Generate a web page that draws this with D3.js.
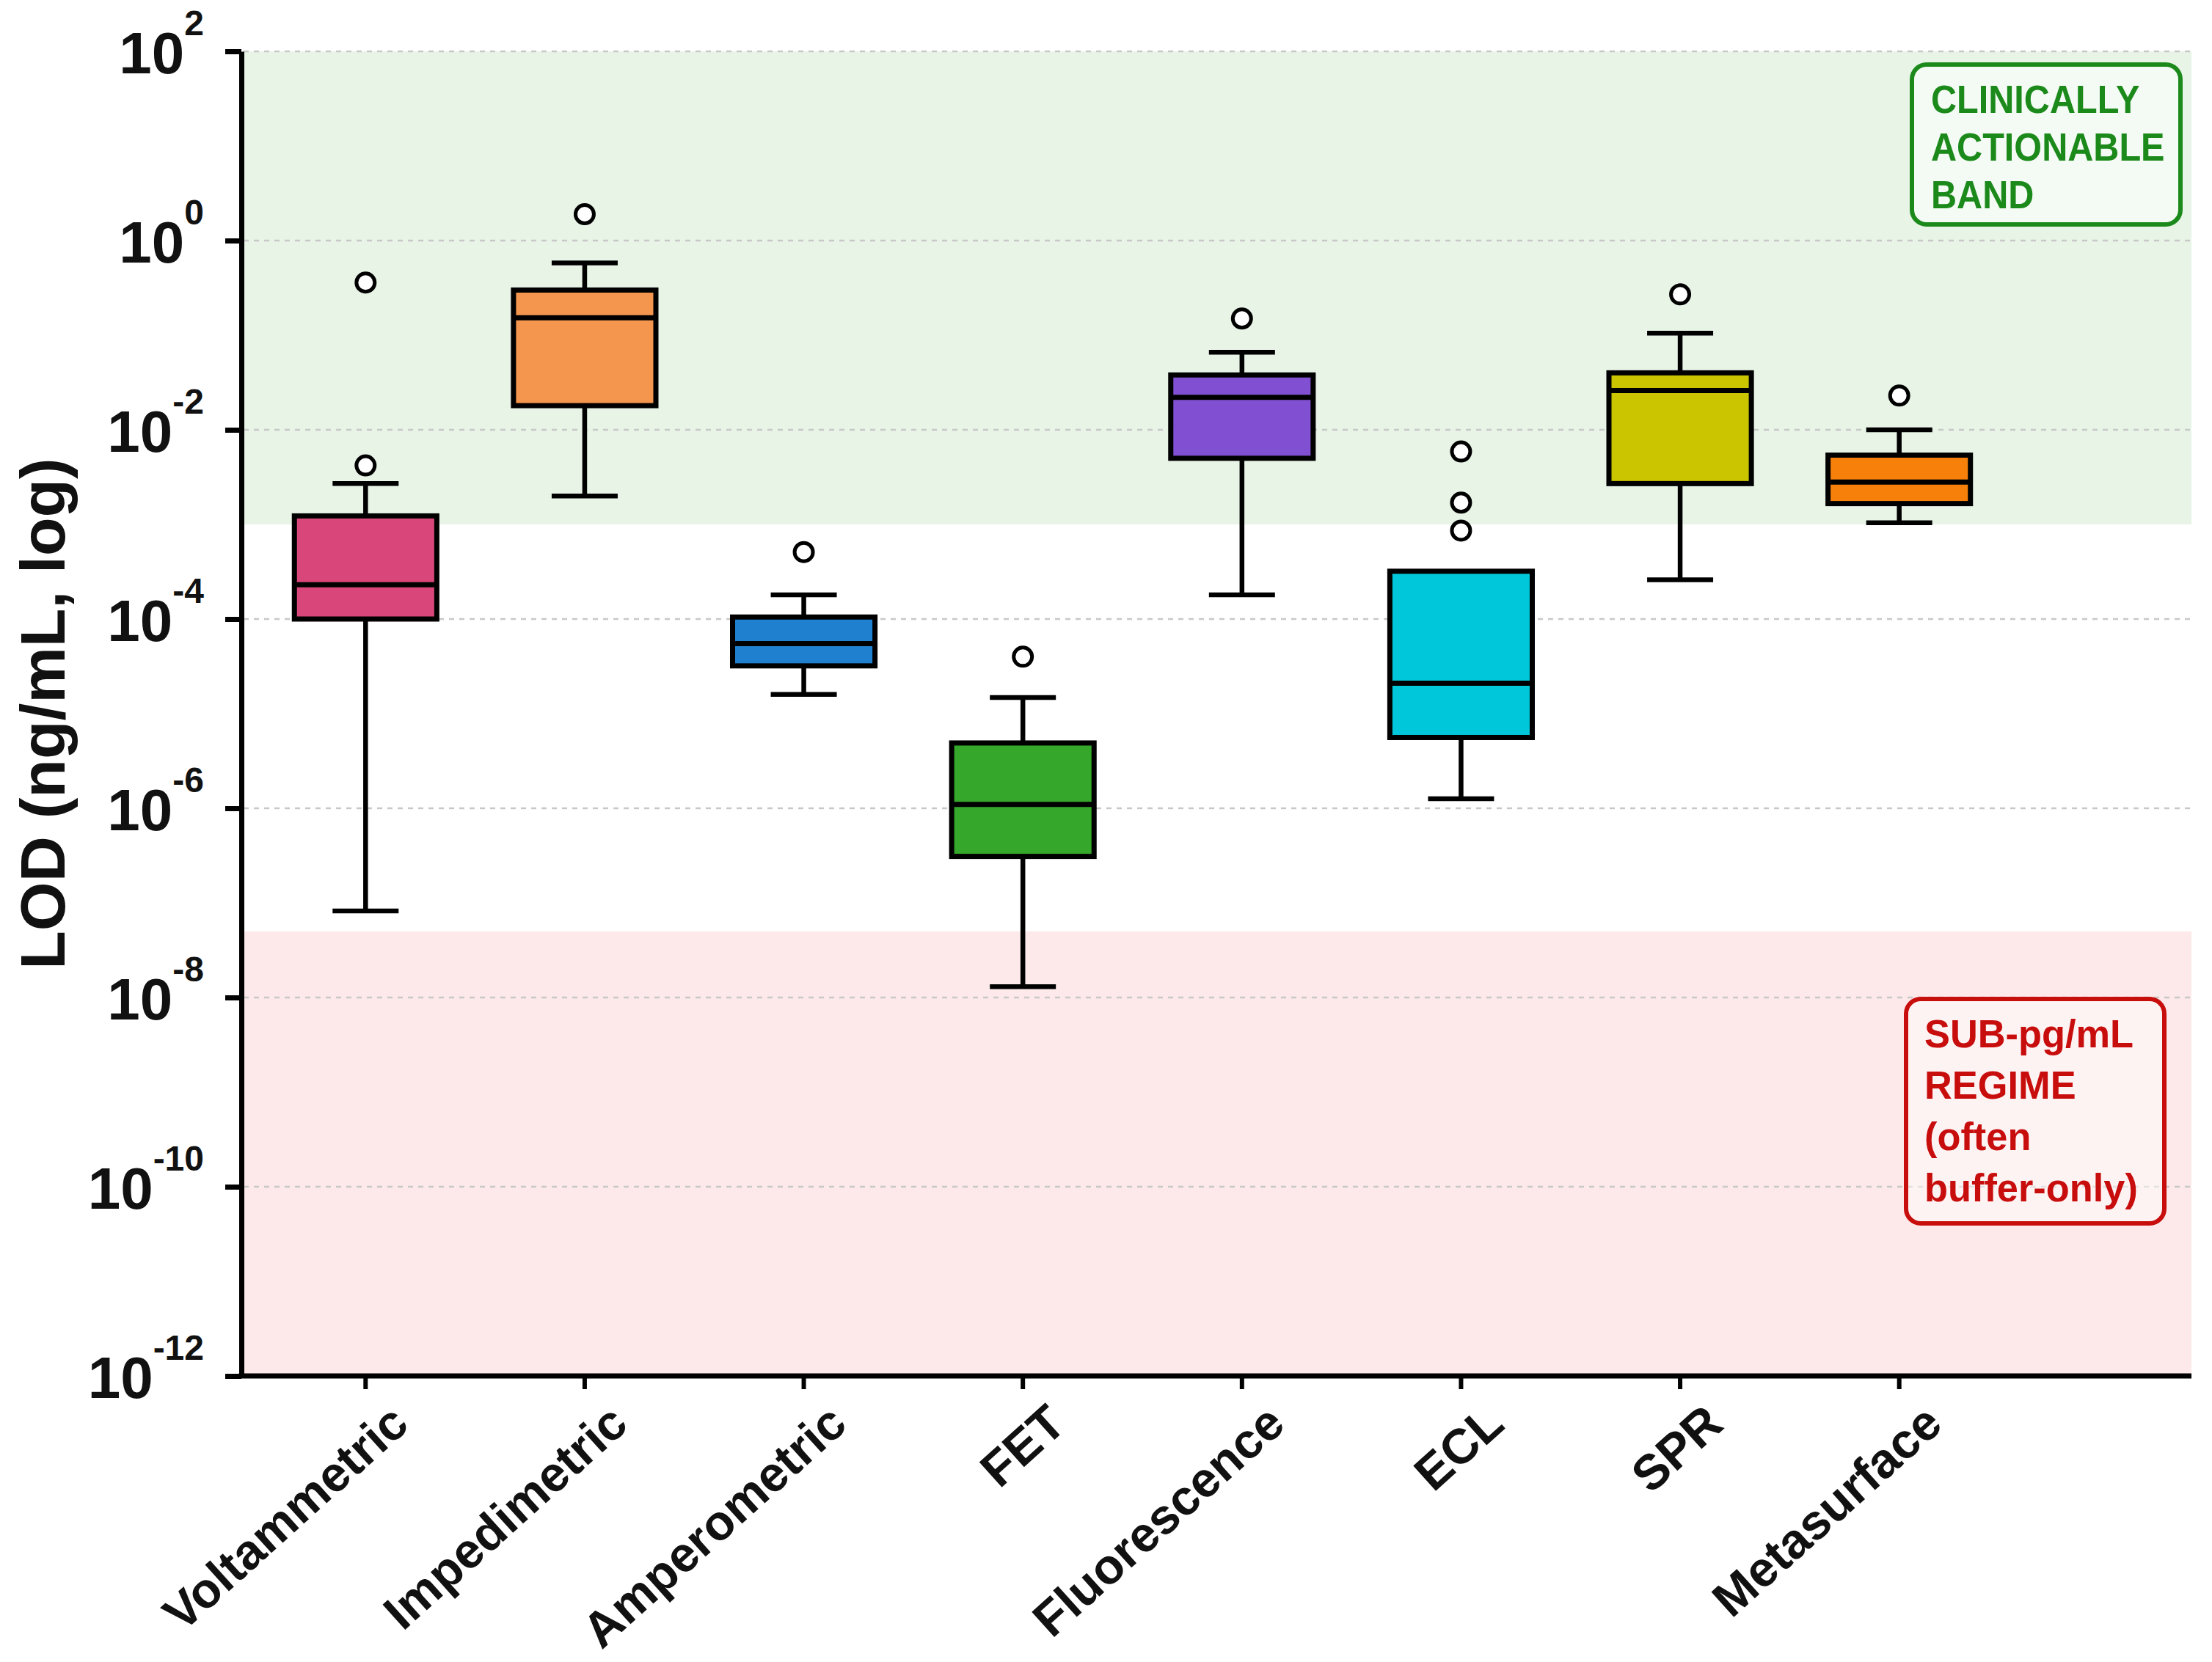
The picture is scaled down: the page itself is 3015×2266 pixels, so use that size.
<!DOCTYPE html>
<html>
<head>
<meta charset="utf-8">
<script src="https://cdn.jsdelivr.net/npm/d3@7"></script>
<style>
  body { margin: 0; background: #fff; }
  text { font-family: "Liberation Sans", Arial, Helvetica, sans-serif; font-weight: bold; }
</style>
</head>
<body>
<svg id="chart"></svg>
<script>
// categories and box statistics (LOD in ng/mL)
var categories = ["Voltammetric", "Impedimetric", "Amperometric", "FET", "Fluorescence", "ECL", "SPR", "Metasurface"];
var whiskerLow  = [8.2e-8, 2.0e-3, 1.6e-5, 1.3e-8, 1.8e-4, 1.26e-6, 2.6e-4, 1.04e-3];
var q1          = [1.0e-4, 1.8e-2, 3.2e-5, 3.1e-7, 5.0e-3, 5.6e-6, 2.7e-3, 1.66e-3];
var medians     = [2.3e-4, 0.153, 5.5e-5, 1.1e-6, 2.2e-2, 2.1e-5, 2.6e-2, 2.8e-3];
var q3          = [1.23e-3, 0.30, 1.05e-4, 4.9e-6, 3.8e-2, 3.2e-4, 4.0e-2, 5.4e-3];
var whiskerHigh = [2.7e-3, 0.58, 1.8e-4, 1.48e-5, 6.6e-2, 3.2e-4, 0.105, 1.0e-2];
var outliers    = [[4.2e-3, 0.36], [1.9], [5.1e-4], [4.0e-5], [0.15], [5.9e-3, 1.7e-3, 8.6e-4], [0.27], [0.023]];
var boxColors   = ["#d9467a", "#f5964e", "#1f80d0", "#35a82b", "#8150d2", "#00c8da", "#cbc500", "#f7800a"];

// y ticks and shaded regimes
var yTicks = [1e2, 1e0, 1e-2, 1e-4, 1e-6, 1e-8, 1e-10, 1e-12];
var clinicalBand = [1e-3, 1e2];
var subPgBand = [1e-12, 5e-8];
var clinicalLabel = ["CLINICALLY", "ACTIONABLE", "BAND"];
var subPgLabel = ["SUB-pg/mL", "REGIME", "(often", "buffer-only)"];

var width = 3015, height = 2266;
var plotLeft = 329, plotRight = 2987, plotTop = 70, plotBottom = 1876;

var svg = d3.select("#chart")
    .attr("width", width)
    .attr("height", height)
    .attr("viewBox", [0, 0, width, height]);

var y = d3.scaleLog()
    .domain([1e-12, 1e2])
    .range([plotBottom, plotTop]);

var x = d3.scaleBand()
    .domain(categories)
    .range([349, 2738])
    .paddingInner(0.35)
    .paddingOuter(0.175);

//background bands
svg.append("rect")
    .attr("x", plotLeft + 3).attr("width", plotRight - plotLeft - 3)
    .attr("y", y(clinicalBand[1])).attr("height", y(clinicalBand[0]) - y(clinicalBand[1]))
    .attr("fill", "#e7f4e6");
svg.append("rect")
    .attr("x", plotLeft + 3).attr("width", plotRight - plotLeft - 3)
    .attr("y", y(subPgBand[1])).attr("height", y(subPgBand[0]) - y(subPgBand[1]))
    .attr("fill", "#fde9e9");

//dotted grid lines
svg.append("g").selectAll("line")
    .data(yTicks.filter(function (d) { return d > 1e-12; }))
    .enter().append("line")
    .attr("x1", plotLeft + 3).attr("x2", plotRight)
    .attr("y1", function (d) { return y(d); })
    .attr("y2", function (d) { return y(d); })
    .attr("stroke", "#c8c8c8")
    .attr("stroke-width", 2.5)
    .attr("stroke-dasharray", "7,7");

//y axis
var yAxisG = svg.append("g")
    .attr("transform", "translate(" + plotLeft + ",0)")
    .call(d3.axisLeft(y).tickValues(yTicks).tickSize(22).tickSizeOuter(0).tickFormat(""));
yAxisG.select(".domain").attr("stroke", "#000").attr("stroke-width", 7);
yAxisG.selectAll(".tick line").attr("stroke", "#000").attr("stroke-width", 7);
yAxisG.selectAll(".tick").each(function (d) {
    var t = d3.select(this).append("text")
        .attr("x", -51).attr("y", 29)
        .attr("text-anchor", "end")
        .attr("fill", "#111");
    t.append("tspan").attr("font-size", 80).text("10");
    t.append("tspan").attr("font-size", 48).attr("dy", -52).text(String(Math.round(Math.log10(d))));
});

//x axis
var xAxisG = svg.append("g")
    .attr("transform", "translate(0," + plotBottom + ")")
    .call(d3.axisBottom(x).tickSize(18).tickSizeOuter(0));
xAxisG.select(".domain").remove();
xAxisG.selectAll(".tick line").attr("stroke", "#000").attr("stroke-width", 6);
xAxisG.selectAll(".tick text")
    .attr("x", 0).attr("y", 0).attr("dy", 0)
    .attr("text-anchor", "end")
    .attr("font-size", 67)
    .attr("fill", "#111")
    .attr("transform", "translate(62,70) rotate(-42)");
svg.append("line")
    .attr("x1", plotLeft - 3.5).attr("x2", plotRight)
    .attr("y1", plotBottom).attr("y2", plotBottom)
    .attr("stroke", "#000").attr("stroke-width", 7);

//y axis title
svg.append("text")
    .attr("transform", "translate(88," + ((plotTop + plotBottom) / 2) + ") rotate(-90)")
    .attr("text-anchor", "middle")
    .attr("font-size", 86)
    .attr("fill", "#111")
    .text("LOD (ng/mL, log)");

//boxes
var bw = x.bandwidth();
var capW = 90;
var boxes = svg.append("g").selectAll("g")
    .data(categories)
    .enter().append("g")
    .attr("transform", function (d) { return "translate(" + (x(d) + bw / 2) + ",0)"; });

boxes.append("line")
    .attr("x1", 0).attr("x2", 0)
    .attr("y1", function (d, i) { return y(whiskerLow[i]); })
    .attr("y2", function (d, i) { return y(whiskerHigh[i]); })
    .attr("stroke", "#000").attr("stroke-width", 6.5);
boxes.append("line")
    .attr("x1", -capW / 2).attr("x2", capW / 2)
    .attr("y1", function (d, i) { return y(whiskerLow[i]); })
    .attr("y2", function (d, i) { return y(whiskerLow[i]); })
    .attr("stroke", "#000").attr("stroke-width", 6.5);
boxes.filter(function (d, i) { return whiskerHigh[i] > q3[i]; })
    .append("line")
    .attr("x1", -capW / 2).attr("x2", capW / 2)
    .attr("y1", function (d) { return y(whiskerHigh[categories.indexOf(d)]); })
    .attr("y2", function (d) { return y(whiskerHigh[categories.indexOf(d)]); })
    .attr("stroke", "#000").attr("stroke-width", 6.5);
boxes.append("rect")
    .attr("x", -bw / 2).attr("width", bw)
    .attr("y", function (d, i) { return y(q3[i]); })
    .attr("height", function (d, i) { return y(q1[i]) - y(q3[i]); })
    .attr("fill", function (d, i) { return boxColors[i]; })
    .attr("stroke", "#000").attr("stroke-width", 7);
boxes.append("line")
    .attr("x1", -bw / 2).attr("x2", bw / 2)
    .attr("y1", function (d, i) { return y(medians[i]); })
    .attr("y2", function (d, i) { return y(medians[i]); })
    .attr("stroke", "#000").attr("stroke-width", 7);
boxes.selectAll("circle")
    .data(function (d, i) { return outliers[i]; })
    .enter().append("circle")
    .attr("cx", 0)
    .attr("cy", function (v) { return y(v); })
    .attr("r", 12.5)
    .attr("fill", "#fff")
    .attr("stroke", "#000").attr("stroke-width", 5);

//annotation boxes
function noteBox(x0, y0, w, h, lines, lineH, color, fill, pad, squeeze) {
    var g = svg.append("g");
    g.append("rect")
        .attr("x", x0).attr("y", y0).attr("width", w).attr("height", h)
        .attr("rx", 20).attr("ry", 20)
        .attr("fill", fill)
        .attr("stroke", color).attr("stroke-width", 6);
    g.append("g")
        .attr("transform", "translate(" + (x0 + pad) + "," + (y0 + 66) + ") scale(" + squeeze + ",1)")
        .selectAll("text")
        .data(lines)
        .enter().append("text")
        .attr("x", 0)
        .attr("y", function (d, i) { return i * lineH; })
        .attr("font-size", 54)
        .attr("fill", color)
        .text(function (d) { return d; });
}
noteBox(plotRight - 381, y(1e2) + 18, 366, 218, clinicalLabel, 65, "#1b8a1b", "rgba(255,255,255,0.55)", 26, 0.9);
noteBox(plotRight - 389, y(1e-8) + 2, 352, 306, subPgLabel, 70, "#c80d0d", "rgba(255,255,255,0.45)", 25, 0.97);
</script>
</body>
</html>
